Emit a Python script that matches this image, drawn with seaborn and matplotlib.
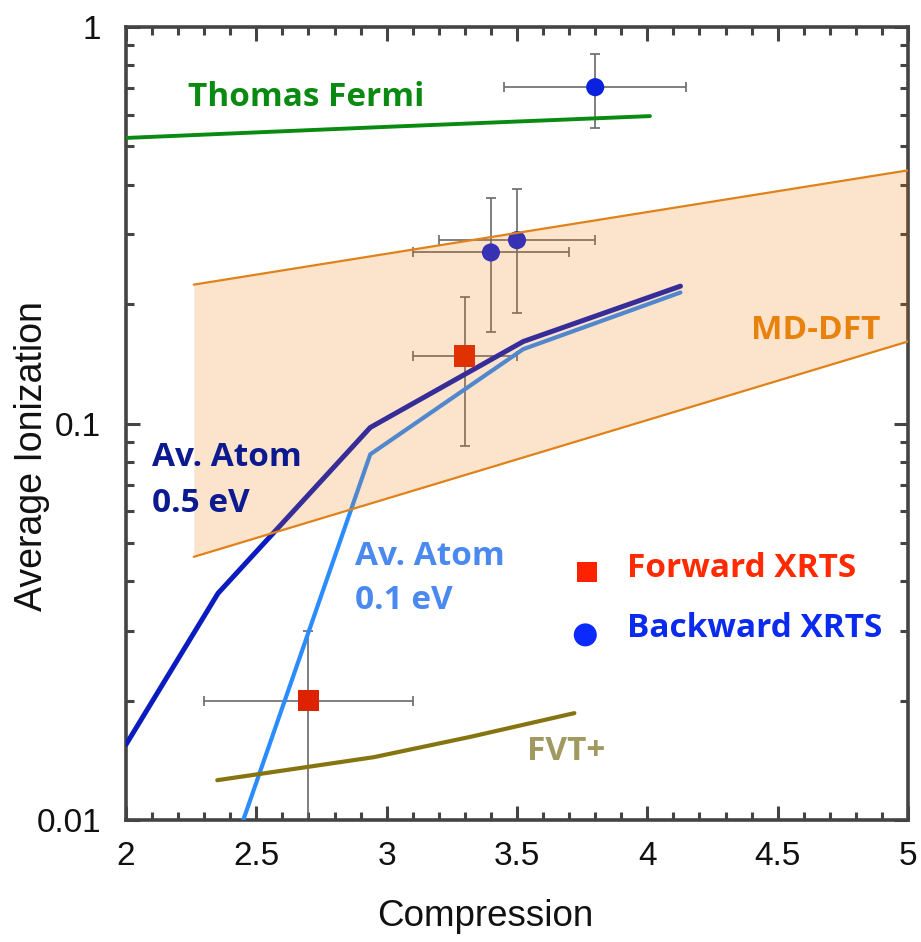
import matplotlib
matplotlib.use("Agg")
import matplotlib.pyplot as plt
import matplotlib.ticker as mticker
import numpy as np
import seaborn as sns

# ---- model curves ----
tf_x = [2.0, 3.0, 4.01]
tf_y = [0.525, 0.560, 0.596]

aa05_x = [2.0, 2.353, 2.937, 3.524, 4.127]
aa05_y = [0.0155, 0.0373, 0.0977, 0.161, 0.222]

aa01_x = [2.45, 2.937, 3.524, 4.127]
aa01_y = [0.0100, 0.0836, 0.154, 0.214]

fvt_x = [2.35, 2.95, 3.32, 3.72]
fvt_y = [0.0126, 0.0144, 0.0162, 0.0186]

# MD-DFT band (upper and lower edges)
md_x = [2.26, 5.0]
md_hi = [0.224, 0.435]
md_lo = [0.0461, 0.161]

# ---- measurements ----
fwd_x = [3.30, 2.70]
fwd_y = [0.148, 0.020]
fwd_xerr = [0.20, 0.40]
fwd_yerr = [0.06, 0.01]

bwd_x = [3.80, 3.40, 3.50]
bwd_y = [0.705, 0.270, 0.290]
bwd_xerr = [0.35, 0.30, 0.30]
bwd_yerr = [0.15, 0.10, 0.10]

x_ticks = [2, 2.5, 3, 3.5, 4, 4.5, 5]
x_ticklabels = ["2", "2.5", "3", "3.5", "4", "4.5", "5"]
y_ticks = [0.01, 0.1, 1]
y_ticklabels = ["0.01", "0.1", "1"]

sns.set_theme(style="white")
plt.rcParams["font.family"] = ["Liberation Sans", "DejaVu Sans"]

fig = plt.figure(figsize=(9.21, 9.42), dpi=100)
ax = fig.add_axes([126 / 921, 1 - 820 / 942, 782 / 921, 793 / 942])
ax.set_yscale("log")

lbl_font = ["Open Sans", "DejaVu Sans"]
LBL = dict(fontsize=24, fontweight="bold", family=lbl_font, va="center", zorder=6)

# Thomas Fermi
sns.lineplot(x=tf_x, y=tf_y, ax=ax, color="#0a8a10", lw=2.8, sort=False, zorder=3)

# Average atom curves
sns.lineplot(x=aa05_x, y=aa05_y, ax=ax, color="#0a1cc0", lw=3.6, sort=False, zorder=3)
sns.lineplot(x=aa01_x, y=aa01_y, ax=ax, color="#2a8cff", lw=3.0, sort=False, zorder=3)

# FVT+
sns.lineplot(x=fvt_x, y=fvt_y, ax=ax, color="#857510", lw=3.0, sort=False, zorder=3)

# error bars
ax.errorbar(fwd_x, fwd_y, xerr=fwd_xerr, yerr=fwd_yerr, fmt="none",
            ecolor="#6a6a6a", elinewidth=1.2, capsize=3.5, capthick=1.2, zorder=2)
ax.errorbar(bwd_x, bwd_y, xerr=bwd_xerr, yerr=bwd_yerr, fmt="none",
            ecolor="#6a6a6a", elinewidth=1.2, capsize=3.5, capthick=1.2, zorder=2)

# markers
sns.scatterplot(x=fwd_x, y=fwd_y, ax=ax, marker="s", s=230, color="#dd2200",
                edgecolor="none", zorder=4)
sns.scatterplot(x=bwd_x, y=bwd_y, ax=ax, marker="o", s=170, color="#0a22e0",
                edgecolor="none", zorder=4)

# MD-DFT band, translucent on top
ax.fill_between(md_x, md_lo, md_hi, color="#f07300", alpha=0.2, lw=0, zorder=5)
ax.plot(md_x, md_hi, color="#e0821a", lw=1.6, zorder=5)
ax.plot(md_x, md_lo, color="#e0821a", lw=1.6, zorder=5)

ax.set_xlim(2, 5)
ax.set_ylim(0.01, 1)

# curve labels
ax.text(2.238, 0.665, "Thomas Fermi", color="#0a8a10", ha="left", **LBL)
ax.text(4.894, 0.172, "MD-DFT", color="#e8820c", ha="right", **LBL)
ax.text(2.10, 0.0820, "Av. Atom", color="#0c1a90", ha="left", **LBL)
ax.text(2.10, 0.0630, "0.5 eV", color="#0c1a90", ha="left", **LBL)
ax.text(2.879, 0.0463, "Av. Atom", color="#4a8af0", ha="left", **LBL)
ax.text(2.879, 0.0357, "0.1 eV", color="#4a8af0", ha="left", **LBL)
ax.text(3.539, 0.0149, "FVT+", color="#a09a60", ha="left", **LBL)

# legend drawn as markers + text
ax.scatter([3.770], [0.0423], marker="s", s=207, color="#ff2200", edgecolor="none", zorder=6)
ax.scatter([3.762], [0.0293], marker="o", s=275, color="#0a2aff", edgecolor="none", zorder=6)
ax.text(3.923, 0.0430, "Forward XRTS", color="#ff2a00", ha="left", **LBL)
ax.text(3.923, 0.0304, "Backward XRTS", color="#0a2af0", ha="left", **LBL)

# axes styling
ax.set_xticks(x_ticks)
ax.set_xticklabels(x_ticklabels)
ax.set_yticks(y_ticks)
ax.set_yticklabels(y_ticklabels)
ax.xaxis.set_minor_locator(mticker.MultipleLocator(0.1))
ax.yaxis.set_minor_locator(mticker.LogLocator(base=10, subs=np.arange(2, 10)))
ax.yaxis.set_minor_formatter(mticker.NullFormatter())
ax.tick_params(which="both", direction="in", top=True, right=True, bottom=True, left=True,
               color="#444444", width=2.2, labelsize=24, labelcolor="#111111")
ax.tick_params(which="major", length=10)
ax.tick_params(which="minor", length=5.5)
ax.tick_params(axis="x", which="major", pad=15)
ax.tick_params(axis="y", which="major", pad=18)
for s in ax.spines.values():
    s.set_color("#444444")
    s.set_linewidth(2.6)

ax.set_xlabel("Compression", fontsize=26.5, color="#111111")
ax.set_ylabel("Average Ionization", fontsize=27, color="#111111")
ax.xaxis.set_label_coords(0.460, -0.100)
ax.yaxis.set_label_coords(-0.097, 0.459)

fig.savefig("out.png", dpi=100)
